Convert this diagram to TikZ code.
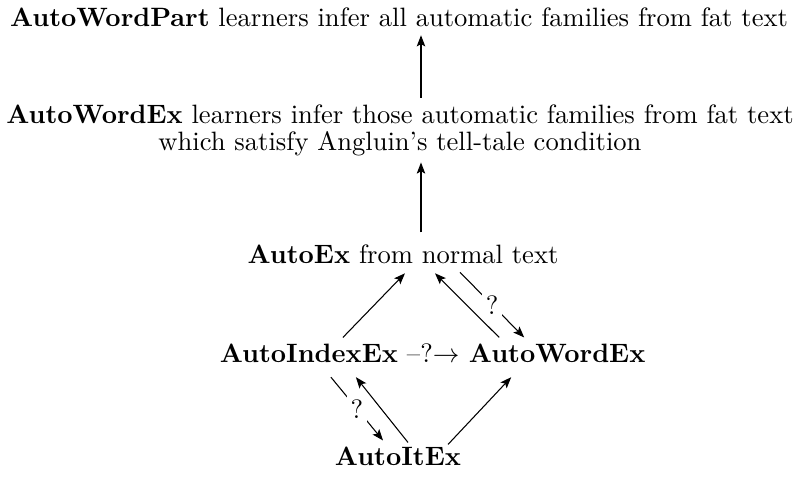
\documentclass[tikz,border=0pt]{standalone}
\usetikzlibrary{calc,arrows.meta}
\begin{document}
\begin{tikzpicture}[x=0.3765pt,y=-0.3765pt,
  lbl/.style={inner sep=0pt,outer sep=0pt,anchor=base},
  arr/.style={line width=0.4pt,-{Stealth[length=4.2pt,width=3.2pt,inset=0.9pt]}},
  qm/.style={fill=white,inner sep=1.5pt}]
\useasboundingbox (0,0) rectangle (799,480);
\node[lbl] (top) at (399,27) {\textbf{AutoWordPart} learners infer all automatic families from fat text};
\node[lbl] (wex) at (400,151) {\shortstack{\textbf{AutoWordEx} learners infer those automatic families from fat text\\which satisfy Angluin's tell-tale condition}};
\node[lbl] (ax) at (403,264) {\textbf{AutoEx} from normal text};
\node[lbl,anchor=base east] (iex) at (398,363) {\textbf{AutoIndexEx}};
\node[lbl,anchor=base west] (qa) at (407,363) {--?$\rightarrow$};
\node[lbl,anchor=base west] (wdx) at (469,363) {\textbf{AutoWordEx}};
\node[lbl] (itx) at (398,466) {\textbf{AutoItEx}};
% vertical arrows
\draw[arr] ($(wex.north)+(21,-7)$) -- ($(top.south)+(22,8)$);
\draw[arr] ($(ax.north)+(18,-13)$) -- ($(wex.south)+(21,6)$);
% diamond
\draw[arr] ($(iex.north)+(34,-7)$) -- ($(ax.south)+(2,9)$);
\draw[arr] ($(ax.south)+(57,8)$) -- node[qm]{?} ($(wdx.north)+(-33,-7)$);
\draw[arr] ($(wdx.north)+(-58,-7)$) -- ($(ax.south)+(32,9)$);
\draw[arr] ($(itx.north)+(50,-3)$) -- ($(wdx.south)+(-46,14)$);
\draw[arr] ($(iex.south)+(22,14)$) -- node[qm]{?} ($(itx.north)+(-15,-7)$);
\draw[arr] ($(itx.north)+(10,-5)$) -- ($(iex.south)+(47,14)$);
\end{tikzpicture}
\end{document}
